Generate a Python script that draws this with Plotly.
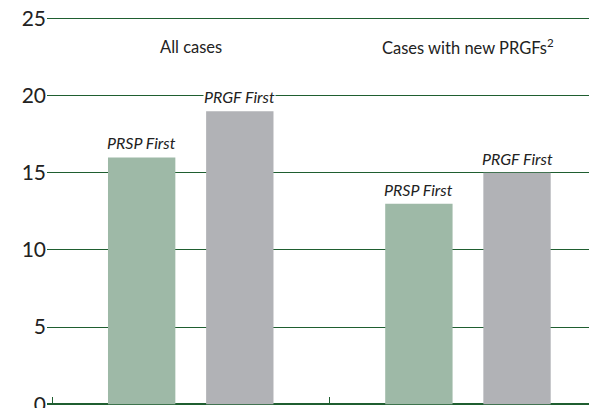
import plotly.graph_objects as go

# ── Data ──────────────────────────────────────────────────────────────────
groups      = ["All cases", "Cases with new PRGFs<sup>2</sup>"]
series      = ["PRSP First", "PRGF First"]
prsp_first  = [16, 13]
prgf_first  = [19, 15]
y_ticks     = [0, 5, 10, 15, 20, 25]

# ── Style ─────────────────────────────────────────────────────────────────
GREEN_LINE = "#1f5e30"
BAR_COLORS = ["#9eb9a7", "#b1b2b6"]
FONT       = "Lato, 'Open Sans', sans-serif"
BAR_W      = 0.243
OFFSETS    = [-0.30, 0.054]

x_pos = list(range(len(groups)))

fig = go.Figure()
for name, vals, color, off in zip(series, [prsp_first, prgf_first], BAR_COLORS, OFFSETS):
    fig.add_trace(go.Bar(
        x=x_pos, y=vals, name=name,
        width=BAR_W, offset=off,
        marker=dict(color=color, line=dict(width=0)),
    ))
    # italic series label sitting above each bar
    for xi, v in zip(x_pos, vals):
        fig.add_annotation(
            x=xi + off + BAR_W / 2, y=v, xref="x", yref="y",
            text=f"<i>{name}</i>", showarrow=False,
            yanchor="bottom", yshift=4,
            bgcolor="white", borderpad=0,
            font=dict(family=FONT, size=16, color="#222"),
        )

# group headings
for xi, g in zip(x_pos, groups):
    fig.add_annotation(
        x=xi, y=23.15, xref="x", yref="y", text=g, showarrow=False,
        font=dict(family=FONT, size=16.5, color="#222"),
    )

# page body has an 8px margin, so the figure is sized/offset to compensate
fig.update_layout(
    width=589, height=400,
    paper_bgcolor="white", plot_bgcolor="white",
    margin=dict(t=6, b=3, l=39, r=0),
    showlegend=False,
    barmode="overlay",
    font=dict(family=FONT, color="#222"),
    xaxis=dict(
        range=[-0.52, 1.464], tickmode="array", tickvals=[-0.5, 0.5],
        ticktext=["", ""], ticks="inside", ticklen=8, tickwidth=1.2, tickcolor=GREEN_LINE,
        showgrid=False, zeroline=False, showline=False, automargin=False,
    ),
    yaxis=dict(
        range=[-0.05, 25.3], tickvals=y_ticks, ticks="",
        tickfont=dict(size=21, color="#222"), ticklabeloverflow="allow",
        showgrid=True, gridcolor=GREEN_LINE, gridwidth=1.3,
        zeroline=True, zerolinecolor=GREEN_LINE, zerolinewidth=1.5,
        showline=False, layer="below traces", automargin=False,
    ),
)

fig.write_html("out.html")
